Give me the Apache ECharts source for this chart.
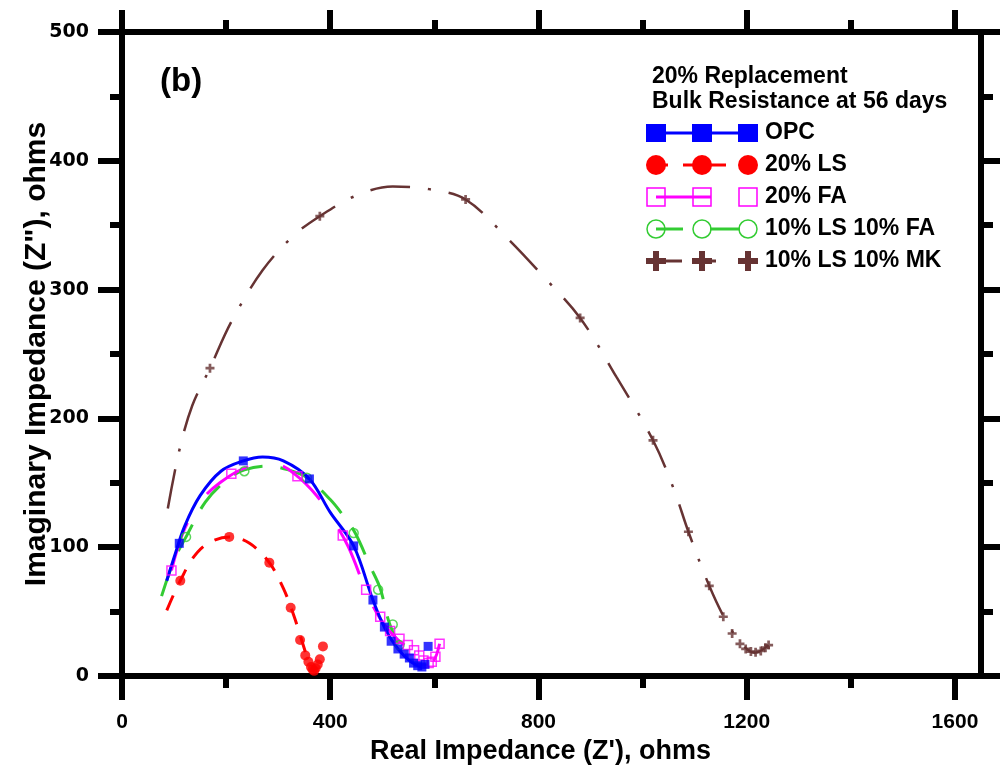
<!DOCTYPE html>
<html>
<head>
<meta charset="utf-8">
<script src="https://cdn.jsdelivr.net/npm/echarts@6/dist/echarts.min.js"></script>
<style>
  html, body { margin: 0; background: #fff; }
  #chart { width: 1000px; height: 779px; }
</style>
</head>
<body>
<div id="chart"></div>
<script>
// axis ticks
const xTicks = [0, 400, 800, 1200, 1600];
const xMinorTicks = [200, 600, 1000, 1400];
const yTicks = [0, 100, 200, 300, 400, 500];
const yMinorTicks = [50, 150, 250, 350, 450];

// OPC
const opcX = [110, 233, 360, 445, 482, 504, 517, 530, 542, 552, 560, 568, 576, 582, 588];
const opcY = [103, 167, 153, 101, 59, 38, 27, 21, 17, 14, 10, 8, 7, 9, 23];
const opcFitX = [86, 100, 120, 150, 190, 233, 270, 310, 360, 400, 445, 482, 505, 530, 555, 575];
const opcFitY = [74, 92, 116, 140, 159, 167, 170, 167, 153, 127, 101, 59, 37, 21, 11, 7];

// 20% LS
const lsX = [112, 206, 283, 324, 342, 352, 358, 363, 366, 369, 372, 376, 380, 386];
const lsY = [74, 108, 88, 53, 28, 16, 11, 7, 5, 4, 6, 9, 13, 23];
const lsFitX = [86, 100, 112, 135, 165, 206, 245, 283, 310, 330, 345, 355];
const lsFitY = [51, 64, 74, 91, 103, 108, 103, 88, 68, 47, 28, 15];

// 20% FA
const faX = [95, 210, 337, 424, 469, 496, 515, 533, 549, 561, 571, 579, 589, 595, 602, 610];
const faY = [82, 157, 155, 109, 67, 46, 35, 29, 24, 20, 16, 12, 10, 11, 15, 25];
const faFitX = [95, 118, 150, 188, 240, 297, 337, 374, 400, 435, 473, 500, 530, 560, 580, 595, 610];
const faFitY = [82, 112, 135, 150, 162, 164, 155, 140, 125, 100, 62, 42, 28, 19, 12, 11, 25];

// 10% LS 10% FA
const lsfaX = [123, 235, 355, 445, 492, 520, 533];
const lsfaY = [108, 159, 154, 111, 67, 40, 24];
const lsfaFitX = [76, 100, 123, 160, 200, 235, 280, 320, 355, 400, 426, 448, 477, 496, 512, 531];
const lsfaFitY = [62, 90, 108, 135, 152, 160, 163, 160, 154, 137, 124, 111, 85, 68, 43, 24];

// 10% LS 10% MK
const lsmkX = [169, 380, 660, 880, 1020, 1088, 1128, 1155, 1172, 1187, 1198, 1208, 1217, 1227, 1236, 1242];
const lsmkY = [239, 357, 370, 278, 183, 112, 70, 46, 33, 25, 21, 19, 18.5, 19.5, 22, 24];
const lsmkFitX = [88, 110, 135, 169, 210, 270, 330, 380, 450, 520, 590, 660, 740, 810, 880, 950, 1020, 1060, 1088, 1128, 1160, 1190, 1215, 1242];
const lsmkFitY = [130, 175, 210, 239, 275, 315, 342, 357, 373, 380, 378, 370, 340, 310, 278, 232, 183, 145, 112, 70, 43, 25, 18, 24];

const legendTitle = ['20% Replacement', 'Bulk Resistance at 56 days'];
const legendNames = ['OPC', '20% LS', '20% FA', '10% LS 10% FA', '10% LS 10% MK'];

const BLUE = '#0000ff', RED = '#ff0000', PINK = '#ff00ff', GREEN = '#33cc33', BROWN = '#663333';
const PLUS = 'path://M7,0H13V7H20V13H13V20H7V13H0V7H7Z';
const FONT = '"Liberation Sans", Arial, sans-serif';

const pairs = (xs, ys) => xs.map((x, i) => [x, ys[i]]);

function fitSeries(name, xs, ys, color, dash, width) {
  return {
    name, type: 'line', data: pairs(xs, ys), smooth: 0.35,
    showSymbol: false, symbol: 'none', silent: true, z: 2,
    lineStyle: { color, width, type: dash, cap: 'butt' }
  };
}

function markSeries(name, xs, ys, symbol, size, itemStyle) {
  return {
    name, type: 'scatter', data: pairs(xs, ys), symbol, symbolSize: size,
    silent: true, z: 3, itemStyle
  };
}

// one side of the frame; minor=true gives the short ticks with no line
function frameAxis(position, min, max, ticks, len, minor, extra) {
  return Object.assign({
    type: 'value', position, min, max,
    axisLine: { show: !minor, onZero: false, lineStyle: { color: '#000', width: 6 } },
    axisTick: { show: true, inside: false, customValues: ticks, length: len, lineStyle: { color: '#000', width: 6 } },
    axisLabel: { show: false },
    splitLine: { show: false }
  }, extra);
}

function legendSymbol(kind, cx, cy, color) {
  switch (kind) {
    case 'square':
      return { type: 'rect', shape: { x: cx - 10, y: cy - 9, width: 20, height: 18 }, style: { fill: color }, z: 10 };
    case 'circle':
      return { type: 'circle', shape: { cx, cy, r: 10 }, style: { fill: color }, z: 10 };
    case 'emptySquare':
      return { type: 'rect', shape: { x: cx - 9, y: cy - 9, width: 18, height: 18 }, style: { fill: 'none', stroke: color, lineWidth: 1.5 }, z: 10 };
    case 'emptyCircle':
      return { type: 'circle', shape: { cx, cy, r: 9 }, style: { fill: 'none', stroke: color, lineWidth: 1.5 }, z: 10 };
    default:
      return {
        type: 'group', z: 10, children: [
          { type: 'rect', shape: { x: cx - 10, y: cy - 3, width: 20, height: 6 }, style: { fill: color } },
          { type: 'rect', shape: { x: cx - 3, y: cy - 10, width: 6, height: 20 }, style: { fill: color } }
        ]
      };
  }
}

function buildLegend() {
  const rows = [
    { kind: 'square', color: BLUE, segs: [[656, 748]] },
    { kind: 'circle', color: RED, segs: [[662, 668], [683, 726]] },
    { kind: 'emptySquare', color: PINK, segs: [[656, 711]] },
    { kind: 'emptyCircle', color: GREEN, segs: [[656, 683], [710, 740]] },
    { kind: 'plus', color: BROWN, segs: [[656, 682], [702, 716]] }
  ];
  const els = [];
  legendTitle.forEach((t, i) => {
    els.push({ type: 'text', x: 652, y: 77 + i * 25, style: { text: t, font: 'bold 23px ' + FONT, fill: '#000', verticalAlign: 'middle' } });
  });
  rows.forEach((r, i) => {
    const cy = 133 + i * 32;
    r.segs.forEach(s => {
      els.push({ type: 'line', shape: { x1: s[0], y1: cy, x2: s[1], y2: cy }, style: { stroke: r.color, lineWidth: 3 }, z: 9 });
    });
    [656, 702, 748].forEach(cx => els.push(legendSymbol(r.kind, cx, cy, r.color)));
    els.push({ type: 'text', x: 765, y: cy, style: { text: legendNames[i], font: 'bold 23px ' + FONT, fill: '#000', verticalAlign: 'middle' } });
  });
  els.push({ type: 'text', x: 160, y: 82, style: { text: '(b)', font: 'bold 33px ' + FONT, fill: '#000', verticalAlign: 'middle' } });
  return els;
}

const chart = echarts.init(document.getElementById('chart'), null, { renderer: 'canvas' });

const option = {
  animation: false,
  backgroundColor: '#fff',
  grid: { left: 122, right: 19, top: 32, bottom: 103, containLabel: false },
  xAxis: [
    frameAxis('bottom', 0, 1650, xTicks, 24, false, {
      axisLabel: {
        show: true, customValues: xTicks, margin: 36, formatter: v => String(v),
        color: '#000', fontFamily: FONT, fontWeight: 'bold', fontSize: 21
      },
      name: "Real Impedance (Z'), ohms", nameLocation: 'middle', nameGap: 62,
      nameTextStyle: { color: '#000', fontFamily: FONT, fontWeight: 'bold', fontSize: 27, padding: [0, 22, 0, 0] }
    }),
    frameAxis('bottom', 0, 1650, xMinorTicks, 12, true),
    frameAxis('top', 0, 1650, xTicks, 22, false),
    frameAxis('top', 0, 1650, xMinorTicks, 12, true)
  ],
  yAxis: [
    frameAxis('left', 0, 500, yTicks, 24, false, {
      axisLabel: {
        show: true, customValues: yTicks, margin: 33, formatter: v => String(v),
        color: '#000', fontFamily: '"DejaVu Sans", sans-serif', fontWeight: 'bold', fontSize: 19
      },
      name: 'Imaginary Impedance (Z"), ohms', nameLocation: 'middle', nameGap: 70, nameRotate: 90,
      nameMoveOverlap: false,
      nameTextStyle: { color: '#000', fontFamily: FONT, fontWeight: 'bold', fontSize: 30 }
    }),
    frameAxis('left', 0, 500, yMinorTicks, 12, true),
    frameAxis('right', 0, 500, yTicks, 22, false),
    frameAxis('right', 0, 500, yMinorTicks, 12, true)
  ],
  series: [
    fitSeries('10% LS 10% MK fit', lsmkFitX, lsmkFitY, BROWN, [40, 18, 3, 18], 2.5),
    fitSeries('20% LS fit', lsFitX, lsFitY, RED, [16, 13], 3),
    fitSeries('10% LS 10% FA fit', lsfaFitX, lsfaFitY, GREEN, [30, 18], 3),
    fitSeries('20% FA fit', faFitX, faFitY, PINK, [50, 35], 3),
    fitSeries('OPC fit', opcFitX, opcFitY, BLUE, 'solid', 3),
    markSeries('10% LS 10% MK', lsmkX, lsmkY, PLUS, 9, { color: BROWN }),
    markSeries('20% LS', lsX, lsY, 'circle', 10, { color: RED }),
    markSeries('10% LS 10% FA', lsfaX, lsfaY, 'circle', 9, { color: 'none', borderColor: GREEN, borderWidth: 1.5 }),
    markSeries('20% FA', faX, faY, 'rect', 9, { color: 'none', borderColor: PINK, borderWidth: 1.5 }),
    markSeries('OPC', opcX, opcY, 'rect', 9, { color: BLUE })
  ],
  graphic: buildLegend()
};

chart.setOption(option);
</script>
</body>
</html>
